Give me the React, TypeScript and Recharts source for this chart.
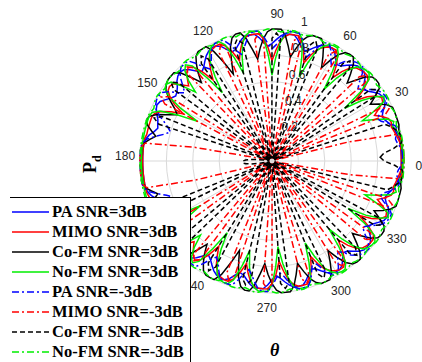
import React from 'react';
import { RadarChart, Radar, PolarGrid, PolarAngleAxis, PolarRadiusAxis } from 'recharts';

// upper half of the pattern, theta = 0..180 every 2 deg (the plot is mirrored about 0-180)
const paPos = [
  0.98, 0.98, 0.98, 0.98, 0.98, 0.97, 0.96, 0.95, 0.93, 0.91,
  0.9, 0.92, 0.95, 0.97, 0.97, 0.96, 0.93, 0.9, 0.88, 0.91,
  0.95, 0.97, 0.97, 0.97, 0.95, 0.92, 0.89, 0.88, 0.91, 0.95,
  0.97, 0.97, 0.96, 0.94, 0.91, 0.88, 0.87, 0.9, 0.94, 0.97,
  0.97, 0.97, 0.95, 0.92, 0.89, 0.87, 0.9, 0.94, 0.97, 0.97,
  0.97, 0.95, 0.92, 0.89, 0.88, 0.91, 0.95, 0.97, 0.97, 0.96,
  0.94, 0.91, 0.88, 0.86, 0.89, 0.93, 0.96, 0.97, 0.96, 0.94,
  0.91, 0.89, 0.88, 0.9, 0.93, 0.96, 0.97, 0.96, 0.94, 0.92,
  0.91, 0.9, 0.92, 0.95, 0.97, 0.98, 0.98, 0.98, 0.98, 0.98,
  0.98,
];
const mimoPos = [
  0.98, 0.98, 0.98, 0.98, 0.97, 0.96, 0.95, 0.94, 0.95, 0.94,
  0.9, 0.85, 0.9, 0.95, 0.96, 0.93, 0.87, 0.78, 0.88, 0.95,
  0.97, 0.97, 0.96, 0.95, 0.92, 0.86, 0.78, 0.87, 0.94, 0.97,
  0.97, 0.96, 0.94, 0.91, 0.85, 0.78, 0.87, 0.94, 0.97, 0.97,
  0.97, 0.95, 0.91, 0.84, 0.76, 0.86, 0.93, 0.97, 0.97, 0.97,
  0.96, 0.93, 0.87, 0.8, 0.88, 0.94, 0.97, 0.97, 0.96, 0.94,
  0.9, 0.83, 0.76, 0.86, 0.93, 0.95, 0.93, 0.89, 0.85, 0.9,
  0.95, 0.96, 0.95, 0.91, 0.85, 0.76, 0.85, 0.92, 0.96, 0.97,
  0.97, 0.97, 0.97, 0.97, 0.98, 0.98, 0.98, 0.98, 0.98, 0.98,
  0.98,
];
const cofmPos = [
  0.99, 0.99, 0.99, 0.99, 0.99, 0.99, 0.99, 1, 1, 1,
  1, 1, 0.97, 0.92, 0.86, 0.92, 0.98, 1, 1, 0.99,
  0.95, 0.88, 0.82, 0.89, 0.96, 1, 1, 0.99, 0.95, 0.88,
  0.8, 0.88, 0.96, 1, 1, 1, 0.98, 0.94, 0.87, 0.8,
  0.88, 0.96, 1, 1, 1, 0.98, 0.93, 0.86, 0.78, 0.86,
  0.95, 1, 1, 0.98, 0.92, 0.82, 0.72, 0.83, 0.94, 1,
  1, 1, 0.98, 0.93, 0.87, 0.8, 0.88, 0.96, 1, 1,
  1, 0.99, 0.97, 0.93, 0.88, 0.83, 0.8, 0.86, 0.94, 0.99,
  1, 0.98, 0.94, 0.9, 0.94, 0.98, 0.99, 0.99, 0.99, 0.99,
  0.99,
];
const nofmPos = [
  0.99, 0.99, 0.99, 0.99, 0.99, 0.98, 0.97, 0.95, 0.97, 0.93,
  0.84, 0.75, 0.86, 0.96, 0.98, 0.92, 0.82, 0.68, 0.85, 0.96,
  0.99, 0.99, 0.98, 0.96, 0.9, 0.8, 0.67, 0.82, 0.95, 0.99,
  0.99, 0.98, 0.95, 0.9, 0.79, 0.67, 0.82, 0.95, 0.99, 0.99,
  0.99, 0.97, 0.9, 0.78, 0.65, 0.8, 0.94, 0.99, 0.99, 0.99,
  0.97, 0.92, 0.82, 0.7, 0.83, 0.95, 0.99, 0.99, 0.98, 0.95,
  0.88, 0.77, 0.64, 0.8, 0.94, 0.98, 0.95, 0.88, 0.78, 0.88,
  0.97, 0.99, 0.98, 0.92, 0.8, 0.64, 0.8, 0.93, 0.98, 0.99,
  0.99, 0.99, 0.99, 0.99, 0.99, 0.99, 0.99, 0.99, 0.99, 0.99,
  0.99,
];
const paNeg = [
  0.99, 0.99, 0.98, 0.96, 0.95, 0.96, 0.98, 0.97, 0.93, 0.88,
  0.86, 0.9, 0.96, 0.99, 0.99, 0.98, 0.96, 0.92, 0.88, 0.85,
  0.89, 0.95, 0.99, 0.99, 0.98, 0.96, 0.93, 0.88, 0.85, 0.89,
  0.95, 0.99, 0.98, 0.93, 0.87, 0.82, 0.88, 0.95, 0.99, 0.99,
  0.99, 0.97, 0.93, 0.88, 0.85, 0.89, 0.95, 0.99, 0.99, 0.98,
  0.93, 0.88, 0.84, 0.88, 0.94, 0.99, 0.99, 0.99, 0.97, 0.92,
  0.87, 0.84, 0.88, 0.94, 0.99, 0.99, 0.99, 0.97, 0.93, 0.88,
  0.84, 0.88, 0.94, 0.98, 0.99, 0.99, 0.98, 0.96, 0.92, 0.87,
  0.83, 0.8, 0.84, 0.9, 0.96, 0.99, 1, 1, 1, 1,
  1,
];
const mimoNeg = [
  1, 1, 1, 1, 0.99, 0.97, 0.6, 0.04, 0.02, 0.03,
  0.92, 0.97, 0.92, 0.03, 0.02, 0.04, 0.02, 0.03, 0.02, 0.92,
  0.97, 0.92, 0.03, 0.02, 0.04, 0.02, 0.03, 0.02, 0.91, 0.96,
  0.91, 0.03, 0.02, 0.04, 0.02, 0.03, 0.02, 0.92, 0.96, 0.92,
  0.03, 0.02, 0.04, 0.02, 0.03, 0.02, 0.93, 0.97, 0.93, 0.03,
  0.02, 0.04, 0.02, 0.03, 0.02, 0.91, 0.96, 0.91, 0.03, 0.02,
  0.04, 0.02, 0.03, 0.02, 0.92, 0.96, 0.92, 0.03, 0.02, 0.04,
  0.02, 0.03, 0.02, 0.92, 0.97, 0.92, 0.03, 0.02, 0.04, 0.02,
  0.03, 0.02, 0.03, 0.1, 0.6, 0.97, 1, 1, 1, 1,
  1,
];
const cofmNeg = [
  0.82, 0.85, 0.93, 0.99, 1, 0.99, 0.97, 0.94, 0.9, 0.05,
  0.02, 0.03, 0.02, 0.04, 0.03, 0.92, 0.97, 0.92, 0.03, 0.02,
  0.04, 0.02, 0.03, 0.02, 0.91, 0.96, 0.91, 0.03, 0.02, 0.04,
  0.02, 0.03, 0.02, 0.92, 0.97, 0.92, 0.03, 0.02, 0.04, 0.02,
  0.03, 0.02, 0.93, 0.97, 0.93, 0.03, 0.02, 0.04, 0.02, 0.03,
  0.02, 0.92, 0.96, 0.92, 0.03, 0.02, 0.04, 0.02, 0.03, 0.02,
  0.91, 0.96, 0.91, 0.03, 0.02, 0.04, 0.02, 0.03, 0.02, 0.92,
  0.97, 0.92, 0.03, 0.02, 0.04, 0.02, 0.03, 0.02, 0.9, 0.95,
  0.9, 0.03, 0.02, 0.04, 0.02, 0.04, 0.1, 0.16, 0.2, 0.22,
  0.22,
];
const nofmNeg = [
  1, 1, 1, 1, 1, 1, 0.99, 0.98, 0.99, 1,
  1, 0.99, 0.98, 1, 1, 1, 0.99, 0.98, 0.99, 1,
  1, 0.99, 0.98, 0.99, 1, 1, 0.99, 0.98, 0.99, 1,
  1, 0.99, 0.98, 0.99, 1, 1, 0.99, 0.98, 0.99, 1,
  1, 0.99, 0.98, 0.99, 1, 1, 0.99, 0.98, 0.99, 1,
  1, 0.99, 0.98, 0.99, 1, 1, 0.99, 0.98, 0.99, 1,
  1, 0.99, 0.98, 0.99, 1, 1, 0.99, 0.98, 0.99, 1,
  1, 0.99, 0.98, 0.99, 1, 1, 0.99, 0.98, 0.99, 1,
  1, 1, 1, 1, 1, 1, 1, 1, 1, 1,
  1,
];

const angleTicks = [0, 30, 60, 90, 120, 150, 180, 210, 240, 270, 300, 330];
// 210 sits under the legend in the original, so no label is drawn there
const angleLabels = [0, 30, 60, 90, 120, 150, 180, 240, 270, 300, 330];
const radiusTicks = [0, 0.2, 0.4, 0.6, 0.8, 1];

const DASHDOT = '7 3 2 3';
const DASHED = '5 3';

const series = [
  { key: 'pa3', name: 'PA SNR=3dB', color: '#0000ff', dash: undefined, values: paPos },
  { key: 'mimo3', name: 'MIMO SNR=3dB', color: '#ff0000', dash: undefined, values: mimoPos },
  { key: 'cofm3', name: 'Co-FM SNR=3dB', color: '#000000', dash: undefined, values: cofmPos },
  { key: 'nofm3', name: 'No-FM SNR=3dB', color: '#00ee00', dash: undefined, values: nofmPos },
  { key: 'paM3', name: 'PA SNR=-3dB', color: '#0000ff', dash: DASHDOT, values: paNeg },
  { key: 'mimoM3', name: 'MIMO SNR=-3dB', color: '#ff0000', dash: DASHDOT, values: mimoNeg },
  { key: 'cofmM3', name: 'Co-FM SNR=-3dB', color: '#000000', dash: DASHED, values: cofmNeg },
  { key: 'nofmM3', name: 'No-FM SNR=-3dB', color: '#00ee00', dash: DASHDOT, values: nofmNeg },
];

// full circle, 2 deg steps, lower half mirrors the upper half
const data: any[] = [];
for (let k = 0; k < 180; k++) {
  const angle = k * 2;
  const h = angle <= 180 ? k : 180 - k;
  const row: any = { angle };
  series.forEach((s) => {
    row[s.key] = s.values[h];
  });
  data.push(row);
}

const CX = 272;
const CY = 161;
const R = 132;

const AngleTick = (props: any) => {
  const v = props.payload.value;
  if (!angleLabels.includes(v)) return <g />;
  const a = (props.payload.coordinate * Math.PI) / 180;
  const x = CX + 147 * Math.cos(a);
  const y = CY - 147 * Math.sin(a);
  return (
    <text x={x} y={y} textAnchor="middle" dominantBaseline="central" fontSize={12} fill="#262626"
      fontFamily="'Liberation Sans', Arial, sans-serif">
      {v}
    </text>
  );
};

const RadiusTick = (props: any) => {
  const v = props.payload.value;
  if (!v) return <g />;
  return (
    <text x={props.x + 14} y={props.y - 8} textAnchor="middle" dominantBaseline="central" fontSize={12}
      fill="#262626" fontFamily="'Liberation Sans', Arial, sans-serif">
      {v}
    </text>
  );
};

const LegendBox = () => (
  <div
    style={{
      position: 'absolute', left: 10, top: 197, width: 181, height: 175,
      borderTop: '1px solid #000', borderRight: '1px solid #000', background: '#fff',
      paddingTop: 4, boxSizing: 'border-box', zIndex: 2,
    }}
  >
    {series.map((s) => (
      <div key={s.key} style={{ height: 20, display: 'flex', alignItems: 'center' }}>
        <svg width={40} height={20} style={{ marginLeft: 2 }}>
          <line x1={0} y1={10} x2={37} y2={10} stroke={s.color} strokeWidth={1.5} strokeDasharray={s.dash} />
        </svg>
        <span style={{ fontFamily: "'Liberation Serif', 'Times New Roman', serif", fontWeight: 'bold', fontSize: 16.5, whiteSpace: 'nowrap' }}>
          {s.name}
        </span>
      </div>
    ))}
  </div>
);

export default function App() {
  return (
    <div style={{ position: 'absolute', left: 0, top: 0, width: 422, height: 362, background: '#fff', overflow: 'hidden' }}>
      <RadarChart width={422} height={362} data={data} cx={CX} cy={CY} outerRadius={R}
        startAngle={0} endAngle={360} margin={{ top: 0, right: 0, bottom: 0, left: 0 }}>
        <PolarGrid gridType="circle" polarAngles={angleTicks} stroke="#d9d9d9" strokeWidth={1} />
        <PolarAngleAxis dataKey="angle" tick={<AngleTick />} tickLine={false} axisLine={false} />
        <PolarRadiusAxis angle={82} domain={[0, 1]} ticks={radiusTicks as any} tickCount={6} allowDataOverflow
          axisLine={false} tickLine={false} tick={<RadiusTick />} />
        {series.map((s) => (
          <Radar key={s.key} name={s.name} dataKey={s.key} stroke={s.color} strokeWidth={1.5}
            strokeDasharray={s.dash} fill="none" fillOpacity={0} dot={false} isAnimationActive={false} />
        ))}
      </RadarChart>
      <div style={{ position: 'absolute', left: 80, top: 150, width: 20, height: 26,
        fontFamily: "'Liberation Serif', 'Times New Roman', serif", fontWeight: 'bold', fontSize: 18,
        transform: 'rotate(-90deg)', transformOrigin: 'center', lineHeight: '26px', whiteSpace: 'nowrap' }}>
        P<sub style={{ fontSize: 12 }}>d</sub>
      </div>
      <div style={{ position: 'absolute', left: 270, top: 340,
        fontFamily: "'Liberation Serif', 'Times New Roman', serif", fontWeight: 'bold', fontStyle: 'italic', fontSize: 18 }}>
        θ
      </div>
      <LegendBox />
    </div>
  );
}
